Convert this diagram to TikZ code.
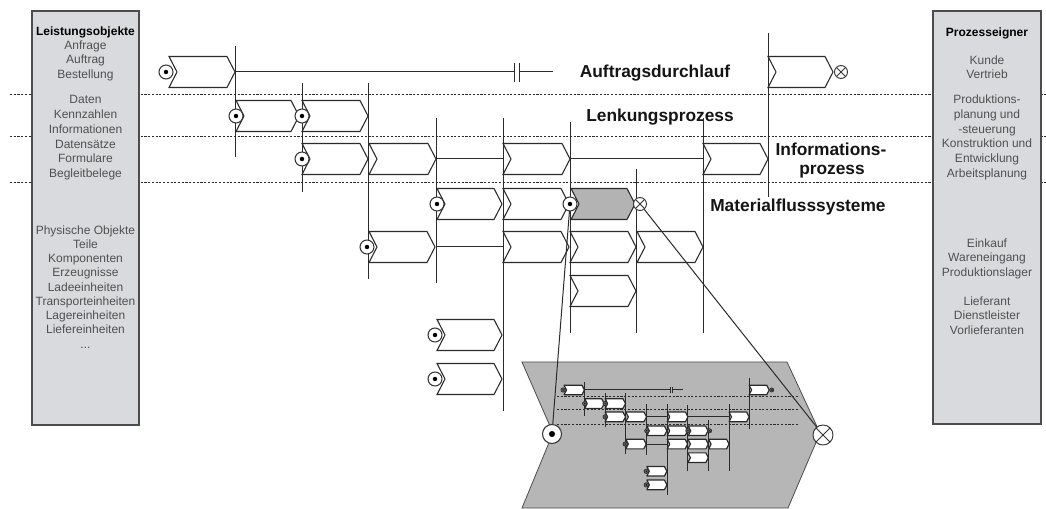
\documentclass[tikz,border=0pt]{standalone}
\usepackage{fontspec}
\setmainfont{Liberation Sans}
\definecolor{panelfill}{HTML}{D9DADD}
\definecolor{ink}{HTML}{2B2B2B}
\definecolor{txtgray}{HTML}{505050}
\definecolor{hlfill}{HTML}{B3B3B3}
\definecolor{insetfill}{HTML}{B6B6B6}
\tikzset{
 vline/.style={draw=ink, line width=0.75pt},
 chevst/.style={draw=ink, line width=0.8pt, fill=white, line join=miter},
 hlst/.style={fill=hlfill},
 dashln/.style={draw=ink, line width=0.6pt, dash pattern=on 1.6pt off 1.2pt},
 startst/.style={draw=black!80, line width=0.8pt, fill=white},
 stopst/.style={draw=black!80, line width=0.7pt, fill=white},
 panelst/.style={draw=black!70, line width=0.8pt, fill=panelfill},
 ptext/.style={font=\fontsize{9}{10.8}\selectfont, text=txtgray, inner sep=0pt},
 ptitle/.style={font=\bfseries\fontsize{9}{10.8}\selectfont, text=black, inner sep=0pt},
 big/.style={font=\bfseries\fontsize{13}{15.6}\selectfont, text=black!92, inner sep=0pt},
}
\newcommand\chev[4][]{\draw[chevst,#1] (#2,#4-15.5) -- (#3-8,#4-15.5) -- (#3,#4) -- (#3-8,#4+15.5) -- (#2,#4+15.5) -- (#2+8,#4) -- cycle;}
\newcommand\startmk[3][7]{\draw[startst] (#2,#3) circle[radius=#1]; \fill[black] (#2,#3) circle[radius=#1*0.32];}
\newcommand\stopmk[3][6.5]{\draw[stopst] (#2,#3) circle[radius=#1];
 \draw[stopst] (#2,#3) ++(45:#1) -- ++(225:2*#1);
 \draw[stopst] (#2,#3) ++(135:#1) -- ++(-45:2*#1);}
\newcommand\netlines{%
 \foreach \vx/\va/\vb in {235/46/157, 302/83/192, 368/83/279, 436/118/283, 503/118/411, 570/122/333, 636/169/333, 703/118/333, 768/33/197}
   {\draw[vline] (\vx,\va) -- (\vx,\vb);}
 \draw[vline] (235,72) -- (514,72) (519,72) -- (553,72);
 \draw[vline] (514,63) -- (514,82) (519,63) -- (519,82);
 \draw[vline] (436,159) -- (503,159) (570,159) -- (703,159);
 \draw[vline] (436,247) -- (503,247);
 \foreach \cl/\cr/\cy in {169/235/72, 768/833/72, 236/299/116, 302/368/116, 302/368/159, 369/436/159, 503/570/159, 703/768/159, 437/502/204, 503/569/204, 369/435/247, 503/569/247, 570/636/247, 637/703/247, 570/636/291, 437/502/335, 437/502/379}
   {\chev{\cl}{\cr}{\cy}}
 \chev[hlst]{571}{635}{204}
}
\newcommand\netmarks{%
 \foreach \mx/\my in {166/72, 236/116, 302/116, 302/159, 437/204, 570/204, 367/247, 435/335, 435/379}
   {\startmk{\mx}{\my}}
 \stopmk{841}{72}
 \stopmk{640}{204}
}
\newcommand\plist[5]{\foreach \t [count=\i from 0] in {#5} {\node[ptext, anchor=base] (#1\i) at (#2,#3+\i*#4) {\t};}}
\begin{document}
\begin{tikzpicture}[x=0.75pt,y=-0.75pt]
\useasboundingbox (0,0) rectangle (1046,509);
\fill[white] (0,0) rectangle (1046,509);
% swimlane separators
\foreach \y in {94,136,182} {\draw[dashln] (10,\y) -- (1046,\y);}
% side panels
\draw[panelst] (32,11) rectangle (139,425);
\draw[panelst] (933,11) rectangle (1041,424);
\node[ptitle, anchor=base] (lt) at (85.5,35.5) {Leistungsobjekte};
\plist{la}{85.5}{49.5}{14.5}{Anfrage,Auftrag,Bestellung}
\plist{lb}{85.5}{103.5}{14.8}{Daten,Kennzahlen,Informationen}
\plist{lc}{85.5}{148.5}{14.5}{Datensätze,Formulare,Begleitbelege}
\plist{ld}{85.5}{234.5}{14.15}{Physische Objekte,Teile,Komponenten,Erzeugnisse,Ladeeinheiten,Transporteinheiten,Lagereinheiten,Liefereinheiten}
\node[ptext, anchor=base] (le) at (85.5,349) {...};
\node[ptitle, anchor=base] (rt) at (987,36.5) {Prozesseigner};
\plist{ra}{987}{64.5}{14.5}{Kunde,Vertrieb}
\plist{rb}{987}{103.5}{14.8}{Produktions-,planung und,-steuerung,Konstruktion und,Entwicklung,Arbeitsplanung}
\plist{rc}{987}{247.5}{14.5}{Einkauf,Wareneingang,Produktionslager}
\plist{rd}{987}{305.5}{14.3}{Lieferant,Dienstleister,Vorlieferanten}
% lane labels
\node[big, anchor=base] (auf) at (655,78) {Auftragsdurchlauf};
\node[big, anchor=base] (lenk) at (660,122) {Lenkungsprozess};
\node[big, anchor=base] (inf1) at (831,155.5) {Informations-};
\node[big, anchor=base] (inf2) at (832,175) {prozess};
\node[big, anchor=base west] (mat) at (710,212) {Materialflusssysteme};
% inset (zoomed-out process)
\draw[draw=black!70, line width=0.6pt, fill=insetfill] (522,362) -- (787,362) -- (820,433) -- (788,508) -- (522,508) -- (553,433) -- cycle;
\begin{scope}[shift={(511.8,367.75)}, scale=0.309, hlst/.style={fill=white},
  startst/.style={draw=black!80, line width=0.6pt, fill=black!60},
  stopst/.style={draw=black!80, line width=0.6pt, fill=black!50},
  chevst/.style={draw=ink, line width=0.9pt, fill=white, line join=round}]
 \foreach \y in {94,136,182} {\draw[dashln] (146,\y) -- (926,\y);}
 \netlines
 \netmarks
\end{scope}
% main process network
\netlines
\coordinate (srcA) at (570,204);
\coordinate (dstA) at (552,434);
\coordinate (srcB) at (640,204);
\coordinate (dstB) at (823,435);
\draw[vline] (srcA) -- (dstA);
\draw[vline] (srcB) -- (dstB);
\netmarks
\startmk[9.5]{552}{434}
\stopmk[10]{823}{435}
\end{tikzpicture}
\end{document}
